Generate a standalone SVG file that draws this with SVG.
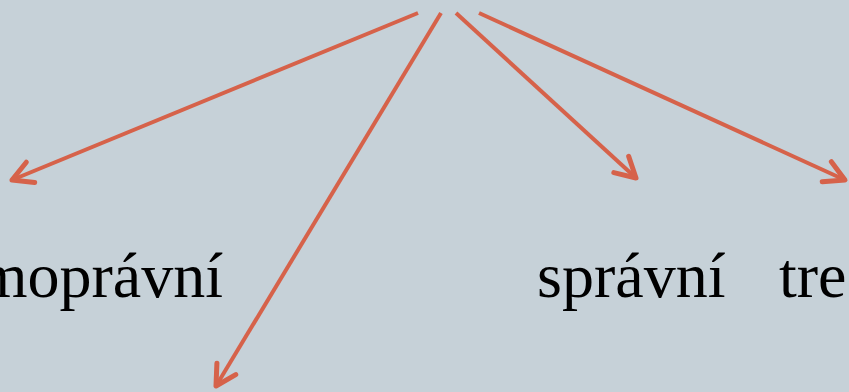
<svg xmlns="http://www.w3.org/2000/svg" width="849" height="392" viewBox="0 0 849 392">
<style>
.c{stroke:#d6624a;stroke-width:4;fill:none;stroke-linecap:butt}
.t{font-family:"Liberation Serif","DejaVu Serif",serif;font-size:64px;fill:#000}
</style>
<defs>
<marker id="ah" markerUnits="userSpaceOnUse" markerWidth="40" markerHeight="40" viewBox="-30 -20 40 40" refX="0" refY="0" orient="auto">
<path d="M -20 -11 L 0 0 L -20 11" fill="none" stroke="#d6624a" stroke-width="5" stroke-linecap="round" stroke-linejoin="round"/>
</marker>
</defs>
<rect width="849" height="392" fill="#c6d1d8"/>
<g id="connectors">
<line class="c" x1="418" y1="13" x2="12" y2="180" marker-end="url(#ah)"/>
<line class="c" x1="441" y1="13" x2="216" y2="386" marker-end="url(#ah)"/>
<line class="c" x1="456" y1="13" x2="636" y2="178" marker-end="url(#ah)"/>
<line class="c" x1="479" y1="13" x2="845" y2="180" marker-end="url(#ah)"/>
</g>
<g id="node-soukromopravni"><text class="t" x="223" y="297" text-anchor="end">soukromoprávní</text></g>
<g id="node-spravni"><text class="t" x="537" y="297">správní</text></g>
<g id="node-trestni"><text class="t" x="779" y="297">trestní</text></g>
</svg>
